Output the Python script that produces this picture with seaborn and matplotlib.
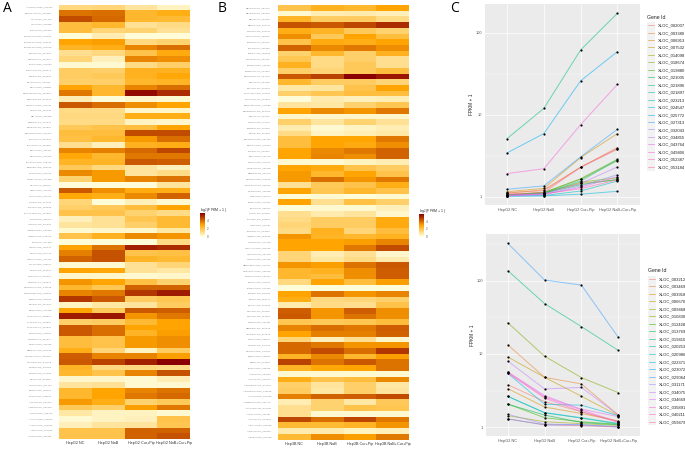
import numpy as np
import pandas as pd
import matplotlib
matplotlib.use('Agg')
import matplotlib.pyplot as plt
from matplotlib.colors import LinearSegmentedColormap
from matplotlib.ticker import FixedLocator, NullFormatter
import seaborn as sns

W, H = 685, 450

# heatmap A, log2(FPKM + 1) per sample
a_nc = [1.3,3.9,4.6,2.2,2.2,0.1,3.0,2.5,1.1,1.4,
        0.2,1.7,1.7,1.6,3.0,3.8,0.6,4.4,1.2,1.3,
        1.2,1.8,2.2,2.1,1.1,3.6,2.9,2.5,1.8,3.5,
        1.5,0.1,4.4,2.9,1.4,1.6,2.0,0.5,0.9,0.2,
        2.0,0.1,3.0,3.7,4.2,0.2,3.0,0.3,3.3,2.4,
        3.6,5.0,0.4,3.0,5.5,1.6,4.4,4.4,2.2,2.2,
        2.7,4.3,4.4,2.5,2.4,0.3,0.9,2.4,2.4,3.2,
        1.8,0.8,0.2,0.5,2.0,2.0]
a_nab = [1.4,4.0,4.1,2.4,1.4,0.6,3.1,2.7,1.3,0.5,
         0.2,1.6,1.8,1.6,2.4,2.4,0.1,4.0,1.2,1.3,
         1.2,2.0,2.2,2.4,0.5,3.7,2.4,2.5,1.3,3.2,
         3.2,0.1,3.4,2.7,0.1,1.8,2.0,1.0,1.0,0.3,
         2.6,0.1,3.9,4.5,4.5,0.2,2.9,0.3,3.0,1.9,
         3.8,4.4,0.8,1.8,5.6,1.7,4.0,4.0,2.0,2.0,
         1.4,3.6,4.8,1.3,2.0,0.3,1.0,3.0,3.0,2.7,
         1.6,0.4,0.4,0.9,2.0,2.0]
a_cur = [0.9,2.4,2.4,1.0,1.5,0.1,1.3,3.6,2.0,3.6,
         1.2,2.6,2.6,2.4,3.6,5.8,0.3,3.4,0.3,2.7,
         0.4,2.2,4.6,3.2,2.6,4.1,3.8,4.4,0.9,0.9,
         3.6,0.1,2.8,3.5,0.5,2.2,1.5,1.9,1.6,0.3,
         3.5,0.1,5.4,2.0,2.5,1.0,1.0,0.2,2.1,4.2,
         5.0,1.7,0.9,4.4,3.3,2.3,3.0,2.5,3.2,3.2,
         0.4,3.6,5.4,1.3,3.6,0.2,0.2,3.6,3.8,1.5,
         3.1,0.4,0.5,0.9,4.2,4.2]
a_combo = [0.4,2.7,2.3,1.2,1.0,0.1,1.5,4.0,2.8,3.4,
           1.6,2.6,2.9,2.5,4.0,5.2,0.2,3.0,0.3,2.7,
           0.3,3.0,4.6,4.0,2.7,4.7,3.8,4.3,0.5,1.2,
           3.9,0.9,2.7,4.2,0.2,3.0,1.2,2.3,2.3,0.8,
           3.3,1.2,5.2,2.1,2.3,1.4,0.8,0.3,1.5,4.2,
           5.5,1.9,1.7,4.3,3.8,3.0,3.0,3.1,3.4,3.4,
           1.7,3.1,6.0,1.2,4.5,0.6,0.2,3.9,4.1,1.8,
           3.8,0.2,2.0,1.9,4.2,4.5]
a_genes = ['ANTXR2|XLOC_014404','SPOCK1|XLOC_029368','HLA|XLOC_017103','HLX|XLOC_003386','KLF5|XLOC_015345',
           'TMPRSS4|XLOC_011863','TMPRSS4|XLOC_011865','TMPRSS1|XLOC_015726','ETS1|XLOC_012163','SMAD|XLOC_024136',
           'SLIT2|XLOC_040760','SLC4A7|XLOC_023276','SKP2|XLOC_028860','SKAP2|XLOC_041361','SKIV|XLOC_030887',
           'SERPINE1|XLOC_050051','SEMA3|XLOC_042470','RPS6KA|XLOC_054761','RGS|XLOC_025006','REL|XLOC_039688',
           'RARG|XLOC_012346','PTPRA|XLOC_031594','PPP1R15|XLOC_027027','PLK2|XLOC_040143','PLAUR|XLOC_036823',
           'PIM1|XLOC_036001','PIM3|XLOC_056787','PHLDA1|XLOC_009434','PDGFB|XLOC_053470','NPTX|XLOC_012763',
           'NFKBIA|XLOC_013998','MAL|XLOC_005421','MMP|XLOC_025760','LDHA|XLOC_017261','LDLR|XLOC_035405',
           'LATS1|XLOC_050830','KIAA0040|XLOC_039392','KLF6|XLOC_006273','ITPKC|XLOC_037534','IGFBP3|XLOC_052353',
           'IGFBP|XLOC_023460','ID3|XLOC_037886','HSP1|XLOC_050007','HIF1|XLOC_027770','HMGA2|XLOC_011483',
           'GULP|XLOC_048207','GPR|XLOC_027921','GPRC|XLOC_036045','GADD|XLOC_029346','GADD45A|XLOC_042328',
           'GADD45B|XLOC_035675','FUBP|XLOC_031583','ETV3|XLOC_011303','EGR1|XLOC_051786','DUSP1|XLOC_038639',
           'DUSP4|XLOC_023868','DUSP5|XLOC_006979','CXCL|XLOC_028967','CRNN|XLOC_031471','CTGF|XLOC_034326',
           'CEBPD|XLOC_037896','CDKN1A|XLOC_026603','CDKN1|XLOC_046726','CD83|XLOC_032759','CD44|XLOC_041098',
           'CCN|XLOC_039387','CAPN|XLOC_015753','BTG1|XLOC_052957','BAG3|XLOC_038641','ATF3|XLOC_013601',
           'AREG|XLOC_022587','APOL|XLOC_039446','ANXA|XLOC_050084','ALDH|XLOC_015909','ADM|XLOC_027595',
           'ACKR|XLOC_038691']

# heatmap B
b_nc = [2.0,0.2,2.5,4.5,2.7,3.4,2.0,4.2,1.5,1.9,
        2.6,1.6,4.4,2.4,0.8,1.6,0.1,0.9,3.0,0.3,
        1.6,0.7,1.2,2.2,2.2,3.0,3.0,0.2,3.0,3.2,
        3.2,1.0,3.0,0.1,3.0,0.1,1.1,1.2,1.4,1.2,
        3.3,3.0,3.0,1.4,1.4,3.3,2.4,2.4,1.3,0.1,
        3.0,2.7,0.7,4.3,4.4,1.9,3.6,3.0,1.4,4.1,
        4.1,2.5,4.8,2.5,0.2,2.7,1.6,1.7,3.7,0.6,
        1.1,1.1,4.7,2.3,0.7,2.3]
b_nab = [2.6,0.6,1.7,4.4,2.5,1.8,2.8,3.5,2.4,1.2,
         1.2,1.4,4.8,1.7,0.9,1.9,0.7,0.8,3.5,0.3,
         0.9,0.2,0.4,3.0,3.0,3.5,3.6,0.2,2.8,2.4,
         4.0,1.8,1.9,0.2,1.1,0.2,0.7,1.7,1.7,2.6,
         2.5,3.0,3.0,0.6,0.8,3.1,2.6,2.2,3.0,0.1,
         3.9,1.3,1.2,3.3,3.3,1.8,4.0,3.7,0.5,3.8,
         4.6,3.5,3.9,2.9,0.2,2.0,0.9,0.8,4.2,1.5,
         1.5,0.2,4.0,2.3,0.7,3.4]
b_cur = [2.4,0.7,1.7,4.7,1.8,3.0,2.7,3.8,1.6,1.6,
         1.8,1.8,6.0,1.7,2.0,2.2,0.5,1.5,3.3,0.3,
         1.5,0.4,0.6,3.0,2.8,3.8,3.4,0.4,2.0,3.0,
         3.3,2.0,2.4,0.1,2.1,0.2,0.9,1.7,1.7,1.4,
         2.4,3.1,3.8,1.0,1.2,3.9,3.4,3.4,2.2,0.1,
         3.3,1.4,1.1,4.3,3.9,1.9,3.8,3.7,1.1,3.3,
         4.0,2.4,4.4,3.0,0.2,2.2,1.6,1.6,4.3,0.8,
         2.0,0.2,4.7,2.5,0.4,3.1]
b_combo = [3.0,0.5,1.2,5.2,1.5,2.2,3.0,3.4,2.6,1.1,
           1.1,2.2,5.6,1.4,3.0,2.2,0.6,1.9,3.8,0.3,
           1.0,0.6,0.8,3.8,3.4,4.2,4.2,0.6,1.7,2.0,
           3.8,2.7,2.0,0.2,1.6,0.5,0.3,2.8,2.8,2.2,
           2.6,3.6,4.6,0.3,0.7,4.4,4.3,4.3,3.1,0.1,
           3.6,1.6,2.0,3.4,3.4,2.2,4.3,4.2,0.3,3.3,
           5.0,3.1,3.9,3.9,0.2,3.5,0.8,0.9,4.6,1.8,
           1.9,0.2,3.8,3.3,0.5,3.8]
b_genes = ['UBTD2|XLOC_034773','UBTD1|XLOC_022203','UBC|XLOC_012468','UBC3|XLOC_013771','TXNIP|XLOC_034760',
           'TXLNA|XLOC_006907','TRIB1|XLOC_036467','TP53|XLOC_046483','TOP3|XLOC_052686','TNFSF|XLOC_041103',
           'TIMM8|XLOC_022637','TIMM10|XLOC_017801','SQSTM1|XLOC_054739','SRF|XLOC_023668','SNAI1|XLOC_031473',
           'SLC7A11|XLOC_021087','SLC7A5|XLOC_030830','SERPINE|XLOC_043186','SELENBP|XLOC_013465','SDS|XLOC_043787',
           'RTN4|XLOC_011301','PRDM|XLOC_035607','PRG|XLOC_012087','PPP1R10|XLOC_027184','PMAIP|XLOC_055230',
           'PLK3|XLOC_002005','PIM2|XLOC_051770','NR4A|XLOC_011902','NFKB2|XLOC_032008','NEDD|XLOC_042670',
           'NDRG1|XLOC_053048','MTHFD2|XLOC_036793','MAFB|XLOC_021236','LYN|XLOC_025774','LONP|XLOC_054636',
           'LOX|XLOC_035501','LMO|XLOC_037850','KLF10|XLOC_033660','JUN|XLOC_013087','IL1RN|XLOC_043066',
           'IGFBP|XLOC_050228','HYOU|XLOC_014758','HSPA1A|XLOC_044736','HSPA8|XLOC_032160','HSP90|XLOC_043005',
           'HERPUD1|XLOC_021304','GABARAP|XLOC_036745','GADD34|XLOC_033057','FOSL|XLOC_031100','FAM83|XLOC_013060',
           'EPS8|XLOC_032569','EIF4|XLOC_052341','DNAJ|XLOC_012346','DDIT3|XLOC_035067','DDIT4|XLOC_013262',
           'CREB|XLOC_022991','CEBPB|XLOC_015478','CDKN2|XLOC_025926','CDK5|XLOC_032377','CD55|XLOC_047759',
           'CCNG2|XLOC_027075','BRD2|XLOC_035862','BID|XLOC_039088','BAG1|XLOC_036469','ATG|XLOC_036096',
           'ATF4|XLOC_023257','ARHGEF|XLOC_047795','ARHGEF2|XLOC_025568','ANLN|XLOC_057598','AMMECR|XLOC_031773',
           'AKAP12|XLOC_035292','AJUBA|XLOC_025361','AFF1|XLOC_030063','ABCA|XLOC_034028','ACOX|XLOC_022329',
           'ABCB|XLOC_051766']

hep2_samples = ['HepG2 NC', 'HepG2 NaB', 'HepG2 Cur+Pip', 'HepG2 NaB+Cur+Pip']
hep3_samples = ['Hep3B NC', 'Hep3B NaB', 'Hep3B Cur+Pip', 'Hep3B NaB+Cur+Pip']

# line panels, FPKM + 1
hue_colors = ['#F8766D','#EA8331','#D89000','#C09B00','#A3A500','#7CAE00','#39B600','#00BB4E','#00BF7D','#00C1A3',
              '#00BFC4','#00BAE0','#00B0F6','#35A2FF','#9590FF','#C77CFF','#E76BF3','#FA62DB','#FF62BC','#FF6A98']

up_ids = ['XLOC_002007','XLOC_003380','XLOC_006913','XLOC_007532','XLOC_014098','XLOC_018674','XLOC_019880',
          'XLOC_021005','XLOC_021896','XLOC_021897','XLOC_023213','XLOC_024547','XLOC_025772','XLOC_027313',
          'XLOC_032043','XLOC_034855','XLOC_043764','XLOC_049406','XLOC_052387','XLOC_053184']
up_nc = [1.12,1.10,1.15,1.05,1.06,1.04,1.05,1.03,5.1,1.04,1.02,1.01,3.41,1.23,1.03,1.02,1.03,1.91,1.05,1.08]
up_nab = [1.18,1.21,1.26,1.12,1.12,1.10,1.12,1.10,11.9,1.10,1.03,1.02,5.87,1.35,1.06,1.08,1.06,2.19,1.08,1.12]
up_cur = [2.28,2.28,2.99,1.45,1.62,1.50,1.65,1.40,61.4,1.55,1.17,1.07,25.8,3.05,1.35,1.45,1.30,7.55,1.25,2.28]
up_combo = [3.96,3.85,5.87,1.60,2.75,1.70,2.85,1.62,172,2.80,1.55,1.16,58.6,6.62,1.85,2.30,1.75,23.4,1.60,3.78]

down_ids = ['XLOC_003212','XLOC_003469','XLOC_003918','XLOC_006670','XLOC_009468','XLOC_010830','XLOC_012428',
            'XLOC_013769','XLOC_019410','XLOC_020253','XLOC_020986','XLOC_022371','XLOC_023072','XLOC_029064',
            'XLOC_031171','XLOC_034075','XLOC_034669','XLOC_035891','XLOC_040211','XLOC_059479']
down_nc = [3.8,13.3,3.37,9.1,1.44,26.7,2.08,2.06,137,2.64,2.64,5.45,1.3,323,1.5,8.0,5.7,5.6,5.5,1.3]
down_nab = [2.24,4.8,1.89,4.8,1.19,9.3,1.35,1.47,48.6,1.58,1.58,2.06,1.08,102,1.11,3.33,2.7,2.6,2.5,1.08]
down_cur = [1.63,3.9,1.54,2.65,1.12,4.76,1.19,1.16,23.6,1.35,1.33,2.0,1.08,87,1.08,3.5,1.76,1.72,1.63,1.05]
down_combo = [1.19,1.47,1.22,1.44,1.06,2.97,1.1,1.08,11.2,1.13,1.11,1.44,1.01,16.9,1.02,1.47,1.4,1.19,1.17,1.01]


def box(fig, x0, y0, x1, y1):
    return fig.add_axes([x0 / W, 1 - y1 / H, (x1 - x0) / W, (y1 - y0) / H])


def draw_heatmap(fig, frame, rect, cbar_rect, title_xy):
    ax = box(fig, *rect)
    cax = box(fig, *cbar_rect)
    sns.heatmap(frame, ax=ax, cmap=heat_cmap, vmin=0, vmax=6, cbar_ax=cax,
                xticklabels=True, yticklabels=True)
    ax.tick_params(axis='y', length=0, labelsize=1.7, labelcolor='#808080', pad=5, rotation=0)
    ax.tick_params(axis='x', length=0, labelsize=2.7, labelcolor='#333333', pad=1.5, rotation=0)
    cax.set_yticks([0, 2, 4])
    cax.tick_params(length=0, labelsize=2.2, labelcolor='#555555', pad=1.5)
    fig.text(title_xy[0] / W, 1 - title_xy[1] / H, 'log$_2$(FPKM + 1)', fontsize=2.6, color='#333333', va='center')


def draw_lines(fig, ids, nc, nab, cur, combo, rect, ylim, leg_x, leg_y, spacing, samples):
    ax = box(fig, *rect)
    frame = pd.DataFrame({'gene': ids, samples[0]: nc, samples[1]: nab, samples[2]: cur, samples[3]: combo})
    long = frame.melt(id_vars='gene', var_name='sample', value_name='fpkm')
    palette = dict(zip(ids, hue_colors))
    ax.set_facecolor('#EBEBEB')
    ax.set_axisbelow(True)
    sns.lineplot(data=long, x='sample', y='fpkm', hue='gene', palette=palette, ax=ax, sort=False,
                 errorbar=None, linewidth=0.7, alpha=0.55, zorder=3)
    handles, labels = ax.get_legend_handles_labels()
    sns.scatterplot(data=long, x='sample', y='fpkm', color='black', s=2.5, linewidth=0, ax=ax, legend=False, zorder=4)
    ax.set_yscale('log')
    ax.set_xlim(-0.6, 3.6)
    ax.set_ylim(*ylim)
    ax.set_xlabel('')
    ax.set_ylabel('FPKM + 1', fontsize=3.4, color='#222222', labelpad=1)
    ax.yaxis.set_major_locator(FixedLocator([1, 10, 100]))
    ax.set_yticklabels(['1', '10', '100'])
    ax.yaxis.set_minor_locator(FixedLocator([10 ** 0.5, 10 ** 1.5, 10 ** 2.5]))
    ax.yaxis.set_minor_formatter(NullFormatter())
    ax.grid(True, which='major', color='white', linewidth=0.5)
    ax.grid(True, which='minor', axis='y', color='white', linewidth=0.25)
    ax.tick_params(which='minor', length=0)
    ax.tick_params(which='major', length=1, width=0.3, color='#444444', labelsize=2.8,
                   labelcolor='#555555', pad=1)
    for s in ax.spines.values():
        s.set_visible(False)
    ax.legend_.remove()

    # grey key band behind the legend lines
    band = box(fig, leg_x, leg_y, leg_x + 7.5, leg_y + 149)
    band.set_facecolor('#F2F2F2')
    band.set_xticks([])
    band.set_yticks([])
    for s in band.spines.values():
        s.set_visible(False)
    leg = fig.legend(handles, labels, loc='upper left', bbox_to_anchor=((leg_x + 0.8) / W, 1 - (leg_y + 1.5) / H),
                     frameon=False, fontsize=3.0, handlelength=1.45, handletextpad=0.95, labelspacing=spacing,
                     borderpad=0, borderaxespad=0)
    for txt in leg.get_texts():
        txt.set_color('#222222')
    for line in leg.get_lines():
        line.set_linewidth(0.7)
    fig.text(leg_x / W, 1 - (leg_y - 4.7) / H, 'Gene Id', fontsize=3.7, color='#222222', va='center')


sns.set_style('white')
plt.rcParams['font.family'] = ['Liberation Sans', 'DejaVu Sans']
heat_cmap = LinearSegmentedColormap.from_list('fpkm', ['#FFFFE0', '#FFA500', '#8B0000'])

fig = plt.figure(figsize=(W / 100, H / 100), dpi=100)

frame_a = pd.DataFrame({hep2_samples[0]: a_nc, hep2_samples[1]: a_nab, hep2_samples[2]: a_cur,
                        hep2_samples[3]: a_combo}, index=a_genes)
frame_b = pd.DataFrame({hep3_samples[0]: b_nc, hep3_samples[1]: b_nab, hep3_samples[2]: b_cur,
                        hep3_samples[3]: b_combo}, index=b_genes)
draw_heatmap(fig, frame_a, (59, 4.7, 190, 439), (200, 213, 204.5, 236.5), (200, 210))
draw_heatmap(fig, frame_b, (278, 5, 409, 439.5), (419.5, 214, 424, 236.5), (419.5, 211))

draw_lines(fig, up_ids, up_nc, up_nab, up_cur, up_combo, (485, 4, 639.5, 205), (0.79, 223), 647, 22, 0.83, hep2_samples)
draw_lines(fig, down_ids, down_nc, down_nab, down_cur, down_combo, (485.7, 234, 640.3, 436), (0.76, 433), 648, 275.5, 0.85,
           hep2_samples)

for letter, x, y in [('A', 3, 9), ('B', 218, 9), ('C', 450, 9)]:
    fig.text(x / W, 1 - y / H, letter, fontsize=10, family='Open Sans', va='center', color='black')

fig.savefig('out.png', dpi=100)
